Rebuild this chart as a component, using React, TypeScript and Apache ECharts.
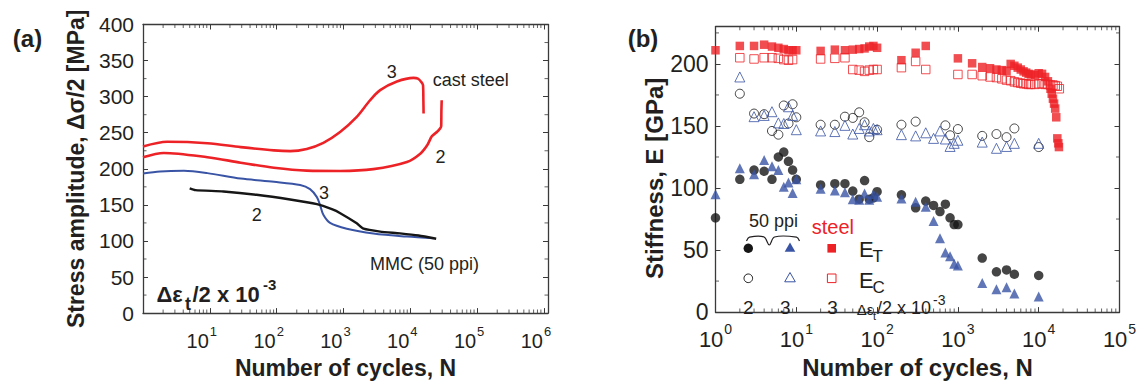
import React, { useEffect, useRef } from 'react';
import * as echarts from 'echarts';

const FONT = '"Liberation Sans", Arial, Helvetica, sans-serif';
const RED = '#ed2227';
const BLUE = '#3a54a5';
const BLACK = '#161616';
const TXT = '#231f20';
const AX = '#3a3a3a';

// ---------- Panel (a): stress amplitude vs cycles ----------
const A_N_STEEL3 = [1, 2.3, 9.2, 29, 91, 160, 282, 500, 890, 1580, 2500, 3540, 6300, 11200, 13000, 14400, 15500, 15700, 15800];
const A_S_STEEL3 = [231, 237.5, 235.5, 230, 225.5, 224.5, 227.5, 236, 251, 272, 295, 309, 321, 326, 325, 321, 316, 295, 276.5];

const A_N_STEEL2 = [1, 2.05, 9.2, 29, 91, 282, 890, 2800, 8900, 14100, 18000, 21000, 25000, 28000, 29000, 29200, 29500];
const A_S_STEEL2 = [216, 222, 216, 208.5, 201.5, 197.5, 197, 199.5, 209.5, 221, 233, 245, 251, 256, 259, 280, 295];

const A_N_MMC3 = [1, 1.8, 4.1, 9.2, 29, 91, 225, 316, 400, 447, 500, 630, 1120, 2800, 8900, 22400];
const A_S_MMC3 = [193.5, 196.3, 197.2, 194, 186.4, 182, 177.6, 171.8, 160.7, 149.6, 136.2, 125, 117, 110.4, 106, 103.6];

const A_N_MMC2 = [5, 6.1, 16, 50, 159, 400, 670, 895, 1580, 2000, 3540, 7000, 13300, 24400];
const A_S_MMC2 = [173, 170.5, 168.5, 164, 157.5, 151, 144, 138.5, 124.5, 117, 113, 110.5, 107.5, 103];

// ---------- Panel (b): stiffness vs cycles ----------
const B_N_STEEL_T = [1, 2, 3, 4, 5, 6, 7, 8, 9, 10, 20, 30, 40, 50, 60, 70, 80, 90, 100, 200, 300, 400, 1000, 1500,
  2000, 2500, 3000, 3500, 4000, 4500, 5000, 5500, 6000, 6500, 7000, 7500, 8000,
  9000, 10000, 11000, 12000, 13000, 14000, 14500, 15000, 15500, 16000, 16500, 17000, 17500, 17800];
const B_E_STEEL_T = [211, 214.5, 214.5, 215.5, 214, 213, 212, 211, 211, 211, 210.5, 211.5, 211, 211.5, 212, 212.5, 214, 214.5, 213, 203, 209, 214.5, 204.5, 200.5,
  197.5, 196.5, 195.5, 195, 194.5, 200, 198.5, 197, 195.5, 194, 193, 192, 191.5,
  191, 192.5, 192, 189.5, 186, 180, 176, 172, 168, 164, 157, 140, 136, 133];

const B_N_STEEL_C = [2, 3, 4, 5, 6, 7, 8, 9, 20, 30, 40, 50, 60, 70, 80, 90, 100, 200, 300, 400, 1000, 1500,
  2000, 2500, 3000, 3500, 4000, 4500, 5000, 5500, 6000, 6500, 7000, 7500, 8000,
  9000, 10000, 11000, 12000, 13000, 14000, 15000, 16000, 17000, 18000];
const B_E_STEEL_C = [205, 204, 205, 205, 204.5, 203.5, 203, 203.5, 204, 204.5, 205, 195.5, 195, 194, 195, 195.5, 195.5, 197, 202, 195.5, 191.5, 191.5,
  190.5, 189.5, 189, 188, 187, 186.5, 185.5, 185, 184.5, 184, 184, 183.5, 183.5,
  183.5, 184, 184, 183.5, 183.5, 183, 183, 182.5, 182, 180];

const B_N_MMC2_T = [1, 2, 3, 4, 5, 6, 7, 8, 9, 10, 20, 30, 40, 50, 60, 70, 80, 90, 100, 200, 300, 400, 500, 600, 700, 800, 900, 1000, 2000, 3000, 4000, 5000, 10000];
const B_E_MMC2_T = [76, 107, 114.5, 113.5, 107, 125, 129, 121.5, 114.5, 107, 102.5, 103.5, 103.5, 97.5, 91, 106, 91, 92, 97, 94.5, 84, 89.5, 86, 81, 87, 76, 70.5, 70.5, 43.5, 32.5, 34, 30.5, 29.5];

const B_N_MMC3_T = [1, 2, 3, 4, 5, 6, 7, 8, 9, 10, 20, 30, 40, 50, 60, 70, 80, 90, 100, 200, 300, 400, 500, 600, 700, 800, 900, 1000, 2000, 3000, 4000, 5000, 10000];
const B_E_MMC3_T = [95, 116, 111, 122.5, 117.5, 114.5, 101, 104.5, 96, 107, 99.5, 98, 96.5, 91, 90.5, 95.5, 90.5, 95, 93, 91.5, 89, 85, 73.5, 59.5, 48, 45, 39, 37.5, 23.5, 18.5, 20, 15, 12.5];

const B_N_MMC2_C = [2, 3, 4, 5, 6, 7, 8, 9, 10, 20, 30, 40, 50, 60, 70, 80, 100, 200, 300, 700, 800, 1000, 2000, 3000, 4000, 5000, 10000];
const B_E_MMC2_C = [176, 160, 159.5, 146, 143, 166.5, 152, 167.5, 157, 151, 151, 157.5, 156.5, 161, 153, 141, 147, 151, 153.5, 150.5, 142.5, 147.5, 142, 143.5, 141, 148, 133];

const B_N_MMC3_C = [2, 3, 4, 5, 6, 7, 8, 9, 10, 20, 30, 40, 50, 60, 70, 80, 90, 100, 200, 300, 400, 500, 600, 700, 800, 900, 1000, 2000, 3000, 4000, 5000, 10000];
const B_E_MMC3_C = [189.5, 157.5, 158.5, 161.5, 152.5, 152, 165.5, 158.5, 147, 146, 145.5, 150.5, 143.5, 148, 151, 146, 148, 147, 143, 142, 144.5, 140, 146, 139.5, 133.5, 136, 138.5, 137, 132, 133.5, 136, 136];

// ---------- Axis decoration ----------
const MINOR_MULTS = [2, 3, 4, 5, 6, 7, 8, 9];
const DECADES_A = [1, 10, 100, 1000, 10000, 100000];
const DECADES_B = [1, 10, 100, 1000, 10000];
const Y_MINOR_A = [25, 75, 125, 175, 225, 275, 325, 375];
const Y_MINOR_B = [25, 75, 125, 175, 225];
const X_RANGE_A = [1, 1.15e6];
const X_RANGE_B = [1, 1e5];
const Y_RANGE_A = [0, 400];
const Y_RANGE_B = [0, 230];

const pairs = (xs: number[], ys: number[]) => xs.map((x, i) => [x, ys[i]]);

function supLabel(hideZero: boolean) {
  return (v: number) => {
    const e = Math.log10(v);
    const r = Math.round(e);
    if (Math.abs(e - r) > 1e-6) return '';
    if (hideZero && r === 0) return '';
    return `{b|10}{s|${r}}`;
  };
}

// minor ticks drawn as thin rect symbols sitting on the frame, pointing inward
const ML = 3.5;
function tickScatter(xIdx: number, yIdx: number, data: number[][], size: number[], offset: number[]) {
  return {
    type: 'scatter', xAxisIndex: xIdx, yAxisIndex: yIdx, data, silent: true, clip: false, z: 6,
    symbol: 'rect', symbolSize: size, symbolOffset: offset,
    itemStyle: { color: AX }, emphasis: { disabled: true },
  };
}
function minorTicks(xIdx: number, yIdx: number, xs: number[], ys: number[], xr: number[], yr: number[]) {
  return [
    tickScatter(xIdx, yIdx, xs.map((v) => [v, yr[0]]), [1, ML], [0, -ML / 2]),
    tickScatter(xIdx, yIdx, xs.map((v) => [v, yr[1]]), [1, ML], [0, ML / 2]),
    tickScatter(xIdx, yIdx, ys.map((v) => [xr[0], v]), [ML, 1], [ML / 2, 0]),
    tickScatter(xIdx, yIdx, ys.map((v) => [xr[1], v]), [ML, 1], [-ML / 2, 0]),
  ];
}

function txt(x: number, y: number, text: string, size: number, opts: any = {}) {
  const align = opts.align || 'left';
  return {
    type: 'text', x, y, silent: true, z: 20,
    style: {
      text, fill: opts.color || TXT, fontSize: size, fontFamily: FONT,
      fontWeight: opts.bold ? 'bold' : 'normal',
      align, textAlign: align, verticalAlign: 'middle', textVerticalAlign: 'middle',
    },
  };
}

const axisLineCommon = { show: true, onZero: false, lineStyle: { color: AX, width: 1.3 } };
const tickCommon = { show: true, inside: true, length: 5, lineStyle: { color: AX, width: 1 } };

export default function App() {
  const ref = useRef<HTMLDivElement>(null);
  useEffect(() => {
    if (!ref.current) return;
    const chart = echarts.init(ref.current, undefined, { renderer: 'svg' });
    const xMinorA = DECADES_A.flatMap((d) => MINOR_MULTS.map((m) => m * d));
    const xMinorB = DECADES_B.flatMap((d) => MINOR_MULTS.map((m) => m * d));

    const option: any = {
      animation: false,
      backgroundColor: '#ffffff',
      grid: [
        { left: 143, top: 24.5, width: 405, height: 299 },
        { left: 715.5, top: 26.7, width: 404, height: 299 },
      ],
      xAxis: [
        {
          type: 'log', gridIndex: 0, position: 'bottom', min: X_RANGE_A[0], max: X_RANGE_A[1], logBase: 10,
          axisLine: axisLineCommon, axisTick: tickCommon, splitLine: { show: false },
          axisLabel: {
            formatter: supLabel(true), margin: 12, padding: [0, 16, 0, 0],
            rich: {
              b: { fontSize: 20, fontFamily: FONT, color: TXT, lineHeight: 26, verticalAlign: 'bottom' },
              s: { fontSize: 13, fontFamily: FONT, color: TXT, lineHeight: 14, verticalAlign: 'top', padding: [0, 0, 0, 1] },
            },
          },
          name: 'Number of cycles, N', nameLocation: 'middle', nameGap: 39,
          nameTextStyle: { fontSize: 23, fontWeight: 'bold', fontFamily: FONT, color: TXT },
        },
        {
          type: 'log', gridIndex: 0, position: 'top', min: X_RANGE_A[0], max: X_RANGE_A[1], logBase: 10,
          axisLine: axisLineCommon, axisTick: tickCommon, axisLabel: { show: false }, splitLine: { show: false },
        },
        {
          type: 'log', gridIndex: 1, position: 'bottom', min: X_RANGE_B[0], max: X_RANGE_B[1], logBase: 10,
          axisLine: axisLineCommon, axisTick: tickCommon, splitLine: { show: false },
          axisLabel: {
            formatter: supLabel(false), margin: 10,
            rich: {
              b: { fontSize: 22, fontFamily: FONT, color: TXT, lineHeight: 28, verticalAlign: 'bottom' },
              s: { fontSize: 14, fontFamily: FONT, color: TXT, lineHeight: 15, verticalAlign: 'top', padding: [0, 0, 0, 1] },
            },
          },
          name: 'Number of cycles, N', nameLocation: 'middle', nameGap: 34,
          nameTextStyle: { fontSize: 24, fontWeight: 'bold', fontFamily: FONT, color: TXT },
        },
        {
          type: 'log', gridIndex: 1, position: 'top', min: X_RANGE_B[0], max: X_RANGE_B[1], logBase: 10,
          axisLine: axisLineCommon, axisTick: tickCommon, axisLabel: { show: false }, splitLine: { show: false },
        },
      ],
      yAxis: [
        {
          type: 'value', gridIndex: 0, position: 'left', min: Y_RANGE_A[0], max: Y_RANGE_A[1], interval: 50,
          axisLine: axisLineCommon, axisTick: tickCommon, splitLine: { show: false },
          axisLabel: { fontSize: 21, fontFamily: FONT, color: TXT, margin: 9 },
          name: 'Stress amplitude, Δσ/2 [MPa]', nameLocation: 'middle', nameGap: 56,
          nameTextStyle: { fontSize: 23, fontWeight: 'bold', fontFamily: FONT, color: TXT },
        },
        {
          type: 'value', gridIndex: 0, position: 'right', min: Y_RANGE_A[0], max: Y_RANGE_A[1], interval: 50,
          axisLine: axisLineCommon, axisTick: tickCommon, axisLabel: { show: false }, splitLine: { show: false },
        },
        {
          type: 'value', gridIndex: 1, position: 'left', min: Y_RANGE_B[0], max: Y_RANGE_B[1], interval: 50,
          axisLine: axisLineCommon, axisTick: tickCommon, splitLine: { show: false },
          axisLabel: {
            fontSize: 23, fontFamily: FONT, color: TXT, margin: 7,
            formatter: (v: number) => (v % 50 === 0 ? String(v) : ''),
          },
          name: 'Stiffness, E [GPa]', nameLocation: 'middle', nameGap: 48,
          nameTextStyle: { fontSize: 24, fontWeight: 'bold', fontFamily: FONT, color: TXT, padding: [0, 18, 0, 0] },
        },
        {
          type: 'value', gridIndex: 1, position: 'right', min: Y_RANGE_B[0], max: Y_RANGE_B[1], interval: 50,
          axisLine: axisLineCommon, axisTick: tickCommon, axisLabel: { show: false }, splitLine: { show: false },
        },
      ],
      series: [
        { type: 'line', xAxisIndex: 0, yAxisIndex: 0, data: pairs(A_N_STEEL3, A_S_STEEL3), showSymbol: false, symbol: 'none', smooth: 0.3, lineStyle: { color: RED, width: 2.6 }, z: 3 },
        { type: 'line', xAxisIndex: 0, yAxisIndex: 0, data: pairs(A_N_STEEL2, A_S_STEEL2), showSymbol: false, symbol: 'none', smooth: 0.3, lineStyle: { color: RED, width: 2.6 }, z: 3 },
        { type: 'line', xAxisIndex: 0, yAxisIndex: 0, data: pairs(A_N_MMC3, A_S_MMC3), showSymbol: false, symbol: 'none', smooth: 0.3, lineStyle: { color: BLUE, width: 2 }, z: 3 },
        { type: 'line', xAxisIndex: 0, yAxisIndex: 0, data: pairs(A_N_MMC2, A_S_MMC2), showSymbol: false, symbol: 'none', smooth: 0.2, lineStyle: { color: BLACK, width: 2.4 }, z: 4 },

        { type: 'scatter', xAxisIndex: 2, yAxisIndex: 2, data: pairs(B_N_MMC2_C, B_E_MMC2_C), symbol: 'circle', symbolSize: 9, itemStyle: { color: 'rgba(255,255,255,0)', borderColor: BLACK, borderWidth: 1 }, z: 2 },
        { type: 'scatter', xAxisIndex: 2, yAxisIndex: 2, data: pairs(B_N_MMC3_C, B_E_MMC3_C), symbol: 'triangle', symbolSize: 10, itemStyle: { color: 'rgba(255,255,255,0)', borderColor: BLUE, borderWidth: 1 }, z: 2 },
        { type: 'scatter', xAxisIndex: 2, yAxisIndex: 2, data: pairs(B_N_MMC2_T, B_E_MMC2_T), symbol: 'circle', symbolSize: 9.5, itemStyle: { color: BLACK }, z: 2 },
        { type: 'scatter', xAxisIndex: 2, yAxisIndex: 2, data: pairs(B_N_MMC3_T, B_E_MMC3_T), symbol: 'triangle', symbolSize: 10, itemStyle: { color: BLUE }, z: 2 },
        { type: 'scatter', xAxisIndex: 2, yAxisIndex: 2, data: pairs(B_N_STEEL_C, B_E_STEEL_C), symbol: 'rect', symbolSize: 8.5, itemStyle: { color: 'rgba(255,255,255,0)', borderColor: RED, borderWidth: 1 }, z: 2 },
        { type: 'scatter', xAxisIndex: 2, yAxisIndex: 2, data: pairs(B_N_STEEL_T, B_E_STEEL_T), symbol: 'rect', symbolSize: 8.5, itemStyle: { color: RED }, z: 2 },

        ...minorTicks(0, 0, xMinorA, Y_MINOR_A, X_RANGE_A, Y_RANGE_A),
        ...minorTicks(2, 2, xMinorB, Y_MINOR_B, X_RANGE_B, Y_RANGE_B),
      ],
      graphic: [
        txt(27.5, 38, '(a)', 24, { bold: true, align: 'center' }),
        txt(643, 38, '(b)', 24, { bold: true, align: 'center' }),

        // panel (a) annotations
        txt(391.7, 71.7, '3', 18, { align: 'center' }),
        txt(432.7, 79.8, 'cast steel', 18),
        txt(440.5, 156.7, '2', 18, { align: 'center' }),
        txt(324, 193.3, '3', 18, { align: 'center' }),
        txt(256.7, 215, '2', 18, { align: 'center' }),
        txt(370, 264.2, 'MMC (50 ppi)', 18),
        txt(156.5, 294.5, 'Δε', 22, { bold: true }),
        txt(185, 304, 't', 18, { bold: true }),
        txt(192.5, 294.5, '/2 x 10', 22, { bold: true }),
        txt(263, 284, '-3', 15, { bold: true }),

        // panel (b) legend
        txt(749, 220.5, '50 ppi', 18),
        txt(811.7, 227, 'steel', 20, { color: RED }),
        {
          type: 'polyline', silent: true, z: 20,
          shape: { points: [[746.5, 241], [749.5, 237.2], [764, 237], [769.3, 245], [774.5, 237], [796.5, 237.2], [799.5, 241]], smooth: 0.35 },
          style: { stroke: TXT, lineWidth: 1.2, fill: 'none' },
        },
        { type: 'circle', silent: true, z: 20, shape: { cx: 748.3, cy: 248.3, r: 4.7 }, style: { fill: BLACK } },
        { type: 'polygon', silent: true, z: 20, shape: { points: [[790, 242.5], [795.3, 251.8], [784.7, 251.8]] }, style: { fill: BLUE } },
        { type: 'rect', silent: true, z: 20, shape: { x: 827.4, y: 244, width: 8.6, height: 8.6 }, style: { fill: RED } },
        txt(859, 249, 'E', 22),
        txt(872.5, 256.5, 'T', 17),
        { type: 'circle', silent: true, z: 20, shape: { cx: 748.3, cy: 278.3, r: 4.3 }, style: { fill: 'none', stroke: BLACK, lineWidth: 1 } },
        { type: 'polygon', silent: true, z: 20, shape: { points: [[790, 272.5], [795.3, 281.8], [784.7, 281.8]] }, style: { fill: 'none', stroke: BLUE, lineWidth: 1 } },
        { type: 'rect', silent: true, z: 20, shape: { x: 827.4, y: 274, width: 8.6, height: 8.6 }, style: { fill: 'none', stroke: RED, lineWidth: 1 } },
        txt(859, 280.5, 'E', 22),
        txt(872.5, 287.5, 'C', 17),
        txt(748.3, 307.5, '2', 19, { align: 'center' }),
        txt(785.3, 307.5, '3', 19, { align: 'center' }),
        txt(832.5, 307.5, '3', 19, { align: 'center' }),
        txt(856.7, 309, 'Δε', 15),
        txt(873, 315.5, 't', 11),
        txt(877, 307.5, '/2 x 10', 18),
        txt(933, 299.5, '-3', 14),
      ],
    };
    chart.setOption(option);
    return () => chart.dispose();
  }, []);
  return <div ref={ref} style={{ position: 'absolute', left: 0, top: 0, width: 1141, height: 384, background: '#fff' }} />;
}
